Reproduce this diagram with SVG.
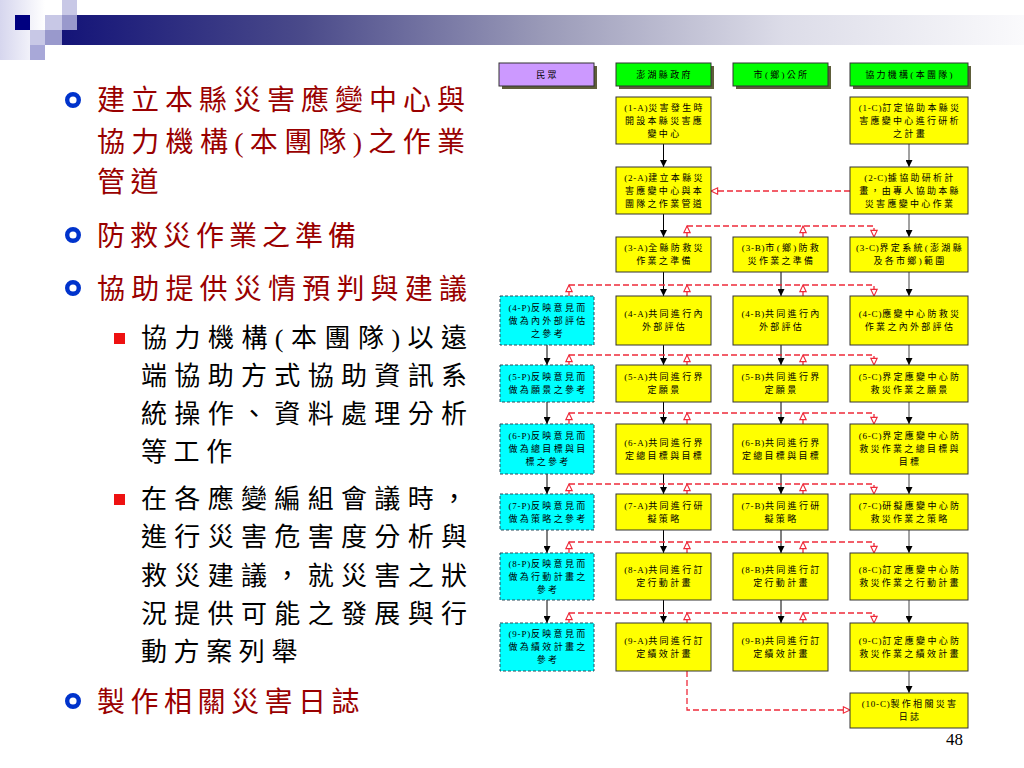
<svg xmlns="http://www.w3.org/2000/svg" width="1024" height="768" viewBox="0 0 1024 768">
<style>
.bt{font-family:"Liberation Serif","Noto Sans CJK TC",serif;font-size:9px;letter-spacing:2.3px;text-anchor:middle;fill:#000}
.l{letter-spacing:0.8px}
.y{fill:#FFFF00;stroke:#333;stroke-width:1}
.p{fill:#00FFFF;stroke:#2a4a5a;stroke-width:1;stroke-dasharray:3 2}
.h{fill:#00FF00;stroke:#333;stroke-width:1}
.hs{fill:#5e5e3a}
.blk{stroke:#000;stroke-width:1;fill:none;marker-end:url(#ab)}
.gry{stroke:#444;stroke-width:1;fill:none;marker-end:url(#ab)}
.rd{stroke:#EE2a3a;stroke-width:1.3;fill:none;stroke-dasharray:6 3}
.ra{marker-end:url(#ar)}
.mt{font-family:"Liberation Serif","Noto Sans CJK TC",serif;font-size:28px;fill:#990000}
.st{font-family:"Liberation Serif","Noto Sans CJK TC",serif;font-size:26px;fill:#000}
</style>
<defs>
<marker id="ab" viewBox="0 0 10 10" refX="10" refY="5" markerWidth="9" markerHeight="7" markerUnits="userSpaceOnUse" orient="auto"><path d="M0,0 L10,5 L0,10 z" fill="#000"/></marker>
<marker id="ar" viewBox="0 0 10 10" refX="9.3" refY="5" markerWidth="8" markerHeight="8" markerUnits="userSpaceOnUse" orient="auto" overflow="visible"><path d="M1,1 L9.3,5 L1,9 z" fill="#fff" stroke="#EE2a3a" stroke-width="1.4"/></marker>
<linearGradient id="band" x1="0" y1="0" x2="1" y2="0"><stop offset="0" stop-color="#141478"/><stop offset="0.25" stop-color="#4a4a8a"/><stop offset="0.5" stop-color="#9a9ab8"/><stop offset="0.75" stop-color="#dcdce8"/><stop offset="1" stop-color="#fafafc"/></linearGradient>
<linearGradient id="lg" x1="0" y1="0" x2="1" y2="0"><stop offset="0" stop-color="#d6d6ee"/><stop offset="1" stop-color="#ffffff"/></linearGradient>
</defs>
<rect width="1024" height="768" fill="#fff"/>
<g id="decoration">
<rect x="0" y="0" width="45" height="60" fill="url(#lg)"/>
<rect x="62" y="15" width="962" height="30" fill="url(#band)"/>
<rect x="62" y="0" width="15" height="15" fill="#c8c8e6"/>
<rect x="15" y="15" width="15" height="15" fill="#000080"/>
<rect x="45" y="15" width="17" height="15" fill="#c8c8e6"/>
<rect x="62" y="15" width="15" height="15" fill="#9999cc"/>
<rect x="30" y="30" width="15" height="15" fill="#c8c8e6"/>
<rect x="45" y="30" width="17" height="15" fill="#9999cc"/>
<rect x="30" y="45" width="15" height="15" fill="#a8a8d8"/>
</g>
<g id="bullets">
<circle cx="73" cy="100" r="5.8" fill="none" stroke="#0033CC" stroke-width="4.4"/>
<circle cx="73" cy="235" r="5.8" fill="none" stroke="#0033CC" stroke-width="4.4"/>
<circle cx="73" cy="288" r="5.8" fill="none" stroke="#0033CC" stroke-width="4.4"/>
<circle cx="73" cy="701" r="5.8" fill="none" stroke="#0033CC" stroke-width="4.4"/>
<rect x="114" y="333" width="11" height="11" fill="#EE1111"/>
<rect x="114" y="494" width="11" height="11" fill="#EE1111"/>
</g>
<g id="left-text">
<text class="mt" x="97" y="110" textLength="368" lengthAdjust="spacing">建立本縣災害應變中心與</text>
<text class="mt" x="97" y="152" textLength="368" lengthAdjust="spacing">協力機構(本團隊)之作業</text>
<text class="mt" x="97" y="192" letter-spacing="5.5">管道</text>
<text class="mt" x="97" y="246" letter-spacing="5">防救災作業之準備</text>
<text class="mt" x="97" y="299" textLength="370" lengthAdjust="spacing">協助提供災情預判與建議</text>
<text class="mt" x="97" y="712" letter-spacing="5.5">製作相關災害日誌</text>
<text class="st" x="141" y="347" textLength="326" lengthAdjust="spacing">協力機構(本團隊)以遠</text>
<text class="st" x="141" y="385" textLength="326" lengthAdjust="spacing">端協助方式協助資訊系</text>
<text class="st" x="141" y="423" textLength="326" lengthAdjust="spacing">統操作、資料處理分析</text>
<text class="st" x="141" y="461" letter-spacing="6.6">等工作</text>
<text class="st" x="141" y="508" textLength="326" lengthAdjust="spacing">在各應變編組會議時，</text>
<text class="st" x="141" y="546" textLength="326" lengthAdjust="spacing">進行災害危害度分析與</text>
<text class="st" x="141" y="585" textLength="326" lengthAdjust="spacing">救災建議，就災害之狀</text>
<text class="st" x="141" y="623" textLength="326" lengthAdjust="spacing">況提供可能之發展與行</text>
<text class="st" x="141" y="661" letter-spacing="6.6">動方案列舉</text>
<text x="963" y="745" text-anchor="end" font-family="Liberation Serif, serif" font-size="17" fill="#000">48</text>
</g>
<g id="connectors">
<path class="blk" d="M663.5,144 V167"/><path class="blk" d="M663.5,214 V237"/><path class="blk" d="M663.5,272 V296"/><path class="blk" d="M663.5,345 V365"/><path class="blk" d="M663.5,402 V424"/><path class="blk" d="M663.5,474 V494"/><path class="blk" d="M663.5,530 V553"/><path class="blk" d="M663.5,600 V623"/>
<path class="blk" d="M781,272 V296"/><path class="blk" d="M781,345 V365"/><path class="blk" d="M781,402 V424"/><path class="blk" d="M781,474 V494"/><path class="blk" d="M781,530 V553"/><path class="blk" d="M781,600 V623"/>
<path class="blk" d="M547,345 V365"/><path class="blk" d="M547,402 V424"/><path class="blk" d="M547,474 V494"/><path class="blk" d="M547,530 V553"/><path class="blk" d="M547,600 V623"/>
<path class="gry" d="M909,144 V167"/><path class="gry" d="M909,214 V237"/><path class="gry" d="M909,272 V296"/><path class="gry" d="M909,345 V365"/><path class="gry" d="M909,402 V424"/><path class="gry" d="M909,474 V494"/><path class="gry" d="M909,530 V553"/><path class="gry" d="M909,600 V623"/><path class="gry" d="M909,671 V693"/>
<path class="rd ra" d="M850,191 H711"/>
<path class="rd ra" d="M687,237 V226"/><path class="rd ra" d="M803,237 V226"/><path class="rd ra" d="M687,226 H874 V237"/>
<path class="rd ra" d="M569,296 V285"/><path class="rd ra" d="M687,296 V285"/><path class="rd ra" d="M803,296 V285"/><path class="rd ra" d="M569,285 H874 V296"/>
<path class="rd ra" d="M569,365 V355"/><path class="rd ra" d="M687,365 V355"/><path class="rd ra" d="M803,365 V355"/><path class="rd ra" d="M569,355 H874 V365"/>
<path class="rd ra" d="M569,424 V413"/><path class="rd ra" d="M687,424 V413"/><path class="rd ra" d="M803,424 V413"/><path class="rd ra" d="M569,413 H874 V424"/>
<path class="rd ra" d="M569,494 V484"/><path class="rd ra" d="M687,494 V484"/><path class="rd ra" d="M803,494 V484"/><path class="rd ra" d="M569,484 H874 V494"/>
<path class="rd ra" d="M569,553 V542"/><path class="rd ra" d="M687,553 V542"/><path class="rd ra" d="M803,553 V542"/><path class="rd ra" d="M569,542 H874 V553"/>
<path class="rd ra" d="M569,623 V613"/><path class="rd ra" d="M687,623 V613"/><path class="rd ra" d="M803,623 V613"/><path class="rd ra" d="M569,613 H874 V623"/>
<path class="rd ra" d="M687,671 V710 H850"/>
</g>
<g id="h-people"><rect class="hs" x="502" y="66" width="95" height="23"/><rect x="499" y="63" width="95" height="23" fill="#CC99FF" stroke="#333"/><text class="bt" x="547.5" y="78">民眾</text></g>
<g id="h-county"><rect class="hs" x="619" y="66" width="95" height="23"/><rect class="h" x="616" y="63" width="95" height="23"/><text class="bt" x="664.5" y="78">澎湖縣政府</text></g>
<g id="h-town"><rect class="hs" x="736" y="66" width="95" height="23"/><rect class="h" x="733" y="63" width="95" height="23"/><text class="bt" x="781.5" y="78">市(鄉)公所</text></g>
<g id="h-team"><rect class="hs" x="853" y="66" width="118" height="23"/><rect class="h" x="850" y="63" width="118" height="23"/><text class="bt" x="910" y="78">協力機構(本團隊)</text></g>

<g id="n1A"><rect class="y" x="616" y="97" width="95" height="47"/><text class="bt"><tspan x="664.5" y="111"><tspan class="l">(1-A)</tspan>災害發生時</tspan><tspan x="664.5" y="124">開設本縣災害應</tspan><tspan x="664.5" y="137">變中心</tspan></text></g>
<g id="n1C"><rect class="y" x="850" y="97" width="118" height="47"/><text class="bt"><tspan x="910" y="111"><tspan class="l">(1-C)</tspan>訂定協助本縣災</tspan><tspan x="910" y="124">害應變中心進行研析</tspan><tspan x="910" y="137">之計畫</tspan></text></g>
<g id="n2A"><rect class="y" x="616" y="167" width="95" height="47"/><text class="bt"><tspan x="664.5" y="181"><tspan class="l">(2-A)</tspan>建立本縣災</tspan><tspan x="664.5" y="194">害應變中心與本</tspan><tspan x="664.5" y="207">團隊之作業管道</tspan></text></g>
<g id="n2C"><rect class="y" x="850" y="167" width="118" height="47"/><text class="bt"><tspan x="910" y="181"><tspan class="l">(2-C)</tspan>據協助研析計</tspan><tspan x="910" y="194">畫，由專人協助本縣</tspan><tspan x="910" y="207">災害應變中心作業</tspan></text></g>
<g id="n3A"><rect class="y" x="616" y="237" width="95" height="35"/><text class="bt"><tspan x="664.5" y="251.4"><tspan class="l">(3-A)</tspan>全縣防救災</tspan><tspan x="664.5" y="264.4">作業之準備</tspan></text></g>
<g id="n3B"><rect class="y" x="733" y="237" width="95" height="35"/><text class="bt"><tspan x="781.5" y="251.4"><tspan class="l">(3-B)</tspan>市(鄉)防救</tspan><tspan x="781.5" y="264.4">災作業之準備</tspan></text></g>
<g id="n3C"><rect class="y" x="850" y="237" width="118" height="35"/><text class="bt"><tspan x="910" y="251.4"><tspan class="l">(3-C)</tspan>界定系統(澎湖縣</tspan><tspan x="910" y="264.4">及各市鄉)範圍</tspan></text></g>

<g id="n4P"><rect class="p" x="500" y="296" width="94" height="49"/><text class="bt"><tspan x="548" y="311"><tspan class="l">(4-P)</tspan>反映意見而</tspan><tspan x="548" y="324">做為內外部評估</tspan><tspan x="548" y="337">之參考</tspan></text></g>
<g id="n4A"><rect class="y" x="616" y="296" width="95" height="49"/><text class="bt"><tspan x="664.5" y="317.4"><tspan class="l">(4-A)</tspan>共同進行內</tspan><tspan x="664.5" y="330.4">外部評估</tspan></text></g>
<g id="n4B"><rect class="y" x="733" y="296" width="95" height="49"/><text class="bt"><tspan x="781.5" y="317.4"><tspan class="l">(4-B)</tspan>共同進行內</tspan><tspan x="781.5" y="330.4">外部評估</tspan></text></g>
<g id="n4C"><rect class="y" x="850" y="296" width="118" height="49"/><text class="bt"><tspan x="910" y="317.4"><tspan class="l">(4-C)</tspan>應變中心防救災</tspan><tspan x="910" y="330.4">作業之內外部評估</tspan></text></g>

<g id="n5P"><rect class="p" x="500" y="365" width="94" height="37"/><text class="bt"><tspan x="548" y="380.4"><tspan class="l">(5-P)</tspan>反映意見而</tspan><tspan x="548" y="393.4">做為願景之參考</tspan></text></g>
<g id="n5A"><rect class="y" x="616" y="365" width="95" height="37"/><text class="bt"><tspan x="664.5" y="380.4"><tspan class="l">(5-A)</tspan>共同進行界</tspan><tspan x="664.5" y="393.4">定願景</tspan></text></g>
<g id="n5B"><rect class="y" x="733" y="365" width="95" height="37"/><text class="bt"><tspan x="781.5" y="380.4"><tspan class="l">(5-B)</tspan>共同進行界</tspan><tspan x="781.5" y="393.4">定願景</tspan></text></g>
<g id="n5C"><rect class="y" x="850" y="365" width="118" height="37"/><text class="bt"><tspan x="910" y="380.4"><tspan class="l">(5-C)</tspan>界定應變中心防</tspan><tspan x="910" y="393.4">救災作業之願景</tspan></text></g>

<g id="n6P"><rect class="p" x="500" y="424" width="94" height="50"/><text class="bt"><tspan x="548" y="439.4"><tspan class="l">(6-P)</tspan>反映意見而</tspan><tspan x="548" y="452.4">做為總目標與目</tspan><tspan x="548" y="465.4">標之參考</tspan></text></g>
<g id="n6A"><rect class="y" x="616" y="424" width="95" height="50"/><text class="bt"><tspan x="664.5" y="446"><tspan class="l">(6-A)</tspan>共同進行界</tspan><tspan x="664.5" y="459">定總目標與目標</tspan></text></g>
<g id="n6B"><rect class="y" x="733" y="424" width="95" height="50"/><text class="bt"><tspan x="781.5" y="446"><tspan class="l">(6-B)</tspan>共同進行界</tspan><tspan x="781.5" y="459">定總目標與目標</tspan></text></g>
<g id="n6C"><rect class="y" x="850" y="424" width="118" height="50"/><text class="bt"><tspan x="910" y="439.4"><tspan class="l">(6-C)</tspan>界定應變中心防</tspan><tspan x="910" y="452.4">救災作業之總目標與</tspan><tspan x="910" y="465.4">目標</tspan></text></g>

<g id="n7P"><rect class="p" x="500" y="494" width="94" height="36"/><text class="bt"><tspan x="548" y="509"><tspan class="l">(7-P)</tspan>反映意見而</tspan><tspan x="548" y="522">做為策略之參考</tspan></text></g>
<g id="n7A"><rect class="y" x="616" y="494" width="95" height="36"/><text class="bt"><tspan x="664.5" y="509"><tspan class="l">(7-A)</tspan>共同進行研</tspan><tspan x="664.5" y="522">擬策略</tspan></text></g>
<g id="n7B"><rect class="y" x="733" y="494" width="95" height="36"/><text class="bt"><tspan x="781.5" y="509"><tspan class="l">(7-B)</tspan>共同進行研</tspan><tspan x="781.5" y="522">擬策略</tspan></text></g>
<g id="n7C"><rect class="y" x="850" y="494" width="118" height="36"/><text class="bt"><tspan x="910" y="509"><tspan class="l">(7-C)</tspan>研擬應變中心防</tspan><tspan x="910" y="522">救災作業之策略</tspan></text></g>

<g id="n8P"><rect class="p" x="500" y="553" width="94" height="47"/><text class="bt"><tspan x="548" y="567"><tspan class="l">(8-P)</tspan>反映意見而</tspan><tspan x="548" y="580">做為行動計畫之</tspan><tspan x="548" y="593">參考</tspan></text></g>
<g id="n8A"><rect class="y" x="616" y="553" width="95" height="47"/><text class="bt"><tspan x="664.5" y="573.4"><tspan class="l">(8-A)</tspan>共同進行訂</tspan><tspan x="664.5" y="586.4">定行動計畫</tspan></text></g>
<g id="n8B"><rect class="y" x="733" y="553" width="95" height="47"/><text class="bt"><tspan x="781.5" y="573.4"><tspan class="l">(8-B)</tspan>共同進行訂</tspan><tspan x="781.5" y="586.4">定行動計畫</tspan></text></g>
<g id="n8C"><rect class="y" x="850" y="553" width="118" height="47"/><text class="bt"><tspan x="910" y="573.4"><tspan class="l">(8-C)</tspan>訂定應變中心防</tspan><tspan x="910" y="586.4">救災作業之行動計畫</tspan></text></g>

<g id="n9P"><rect class="p" x="500" y="623" width="94" height="48"/><text class="bt"><tspan x="548" y="637.4"><tspan class="l">(9-P)</tspan>反映意見而</tspan><tspan x="548" y="650.4">做為績效計畫之</tspan><tspan x="548" y="663.4">參考</tspan></text></g>
<g id="n9A"><rect class="y" x="616" y="623" width="95" height="48"/><text class="bt"><tspan x="664.5" y="644"><tspan class="l">(9-A)</tspan>共同進行訂</tspan><tspan x="664.5" y="657">定績效計畫</tspan></text></g>
<g id="n9B"><rect class="y" x="733" y="623" width="95" height="48"/><text class="bt"><tspan x="781.5" y="644"><tspan class="l">(9-B)</tspan>共同進行訂</tspan><tspan x="781.5" y="657">定績效計畫</tspan></text></g>
<g id="n9C"><rect class="y" x="850" y="623" width="118" height="48"/><text class="bt"><tspan x="910" y="644"><tspan class="l">(9-C)</tspan>訂定應變中心防</tspan><tspan x="910" y="657">救災作業之績效計畫</tspan></text></g>

<g id="n10C"><rect class="y" x="850" y="693" width="118" height="35"/><text class="bt"><tspan x="910" y="707.4"><tspan class="l">(10-C)</tspan>製作相關災害</tspan><tspan x="910" y="720.4">日誌</tspan></text></g>
</svg>
